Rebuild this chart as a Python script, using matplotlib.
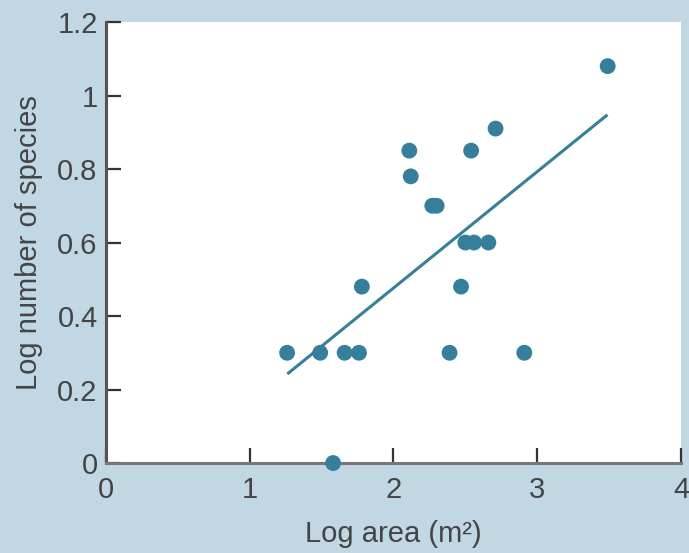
import matplotlib.pyplot as plt

plt.rcParams['font.family'] = ['Liberation Sans', 'DejaVu Sans']

# log area (m^2) and log number of species
log_area = [1.26, 1.49, 1.66, 1.76, 1.78, 1.58, 2.11, 2.12, 2.27, 2.30,
            2.39, 2.47, 2.50, 2.56, 2.66, 2.54, 2.71, 2.91, 3.49]
log_species = [0.30, 0.30, 0.30, 0.30, 0.48, 0.0, 0.85, 0.78, 0.70, 0.70,
               0.30, 0.48, 0.60, 0.60, 0.60, 0.85, 0.91, 0.30, 1.08]

# fitted line end points
fit_x = [1.27, 3.48]
fit_y = [0.245, 0.945]

xticks = [0, 1, 2, 3, 4]
yticks = [0, 0.2, 0.4, 0.6, 0.8, 1.0, 1.2]
ytick_labels = ['0', '0.2', '0.4', '0.6', '0.8', '1', '1.2']

bg = '#c1d7e3'
teal = '#367f9b'
text_col = '#444444'

fig = plt.figure(figsize=(6.89, 5.53), dpi=100, facecolor=bg)
ax = fig.add_axes([0.1538, 0.1627, 0.8346, 0.7975])
ax.set_facecolor('white')

ax.plot(fit_x, fit_y, color=teal, lw=2.2, zorder=3)
ax.scatter(log_area, log_species, s=130, color=teal, edgecolors='none',
           zorder=5, clip_on=False)

ax.set_xlim(0, 4)
ax.set_ylim(0, 1.2)
ax.set_xticks(xticks)
ax.set_yticks(yticks)
ax.set_yticklabels(ytick_labels)

for s in ['top', 'right']:
    ax.spines[s].set_visible(False)
ax.spines['left'].set_color('#555555')
ax.spines['left'].set_linewidth(2.2)
ax.spines['bottom'].set_color('#777777')
ax.spines['bottom'].set_linewidth(2.2)

ax.tick_params(direction='in', length=11, width=1.6, color='#333333',
               labelsize=21, labelcolor=text_col)
ax.tick_params(axis='x', pad=9)
ax.tick_params(axis='y', pad=6)

ax.set_xlabel('Log area (m²)', fontsize=21, color=text_col, labelpad=12)
ax.set_ylabel('Log number of species', fontsize=21, color=text_col, labelpad=10)

fig.savefig('out.png', dpi=100, facecolor=bg)
